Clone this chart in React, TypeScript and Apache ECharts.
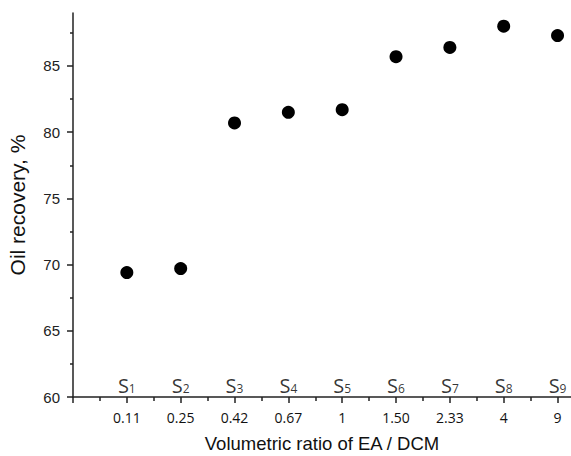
import React, { useEffect, useRef } from "react";
import * as echarts from "echarts";

const sampleNames = ["S1", "S2", "S3", "S4", "S5", "S6", "S7", "S8", "S9"];
const positions = [1, 2, 3, 4, 5, 6, 7, 8, 9];
const ratioLabels = ["0.11", "0.25", "0.42", "0.67", "1", "1.50", "2.33", "4", "9"];
const oilRecovery = [69.4, 69.7, 80.7, 81.5, 81.7, 85.7, 86.4, 88.0, 87.3];
const yMajorTicks = [60, 65, 70, 75, 80, 85];
const yMinorTicks = [62.5, 67.5, 72.5, 77.5, 82.5, 87.5];
const xMajorTicks = [0, 1, 2, 3, 4, 5, 6, 7, 8, 9];
const xMinorTicks = [0.5, 1.5, 2.5, 3.5, 4.5, 5.5, 6.5, 7.5, 8.5];

const AX = "#222";
const ARIAL = "'Liberation Sans', Arial, sans-serif";
const LIGHT = "'Open Sans', 'Noto Sans', sans-serif";

export default function App() {
  const ref = useRef<HTMLDivElement>(null);
  useEffect(() => {
    if (!ref.current) return;
    const chart = echarts.init(ref.current, null, { renderer: "svg" });
    const xBase = { type: "value", min: 0, max: 9.25, position: "bottom", splitLine: { show: false } };
    const yBase = { type: "value", min: 60, max: 89, position: "left", splitLine: { show: false } };
    chart.setOption({
      animation: false,
      backgroundColor: "#fff",
      grid: { left: 73, right: 0, top: 13, bottom: 59, containLabel: false, outerBoundsMode: "none" },
      xAxis: [
        {
          ...xBase,
          axisLine: { show: true, lineStyle: { color: AX, width: 1.5 } },
          axisTick: { show: true, inside: false, length: 6, customValues: xMajorTicks, lineStyle: { color: AX, width: 1.5 } },
          axisLabel: {
            show: true,
            customValues: positions,
            margin: 13,
            fontFamily: LIGHT,
            fontSize: 14,
            color: "#111",
            formatter: (v: number) => ratioLabels[positions.indexOf(v)] ?? "",
          },
          name: "Volumetric ratio of EA / DCM",
          nameLocation: "middle",
          nameGap: 37,
          nameTextStyle: { fontFamily: ARIAL, fontSize: 18.5, color: "#111" },
        },
        {
          ...xBase,
          axisLine: { show: false },
          axisTick: { show: true, inside: false, length: 4, customValues: xMinorTicks, lineStyle: { color: AX, width: 1.5 } },
          axisLabel: { show: false },
        },
      ],
      yAxis: [
        {
          ...yBase,
          axisLine: { show: true, lineStyle: { color: AX, width: 1.5 } },
          axisTick: { show: true, inside: false, length: 6, customValues: yMajorTicks, lineStyle: { color: AX, width: 1.5 } },
          axisLabel: {
            show: true,
            customValues: yMajorTicks,
            margin: 13,
            fontFamily: ARIAL,
            fontSize: 15,
            color: "#222",
          },
          name: "Oil recovery, %",
          nameLocation: "middle",
          nameGap: 45,
          nameTextStyle: { fontFamily: ARIAL, fontSize: 21, color: "#111" },
        },
        {
          ...yBase,
          axisLine: { show: false },
          axisTick: { show: true, inside: false, length: 3, customValues: yMinorTicks, lineStyle: { color: AX, width: 1.5 } },
          axisLabel: { show: false },
        },
      ],
      series: [
        {
          type: "scatter",
          xAxisIndex: 0,
          yAxisIndex: 0,
          symbol: "circle",
          symbolSize: 13,
          itemStyle: { color: "#000", opacity: 1 },
          data: positions.map((x, i) => [x, oilRecovery[i]]),
        },
        {
          type: "scatter",
          xAxisIndex: 0,
          yAxisIndex: 0,
          symbolSize: 0,
          clip: false,
          silent: true,
          itemStyle: { color: "transparent" },
          data: positions.map((x) => [x, 60]),
          label: {
            show: true,
            position: "top",
            distance: 2,
            formatter: (p: any) => {
              const n = sampleNames[p.dataIndex];
              return `{a|${n.slice(0, 1)}}{b|${n.slice(1)}}`;
            },
            rich: {
              a: { fontFamily: LIGHT, fontSize: 20, color: "#000", verticalAlign: "bottom" },
              b: { fontFamily: LIGHT, fontSize: 12, color: "#000", verticalAlign: "bottom", padding: [0, 0, 1, 0] },
            },
          },
        },
      ],
    });
    return () => chart.dispose();
  }, []);
  return (
    <div
      ref={ref}
      style={{ position: "fixed", left: 0, top: 0, width: 571, height: 456 }}
    />
  );
}
